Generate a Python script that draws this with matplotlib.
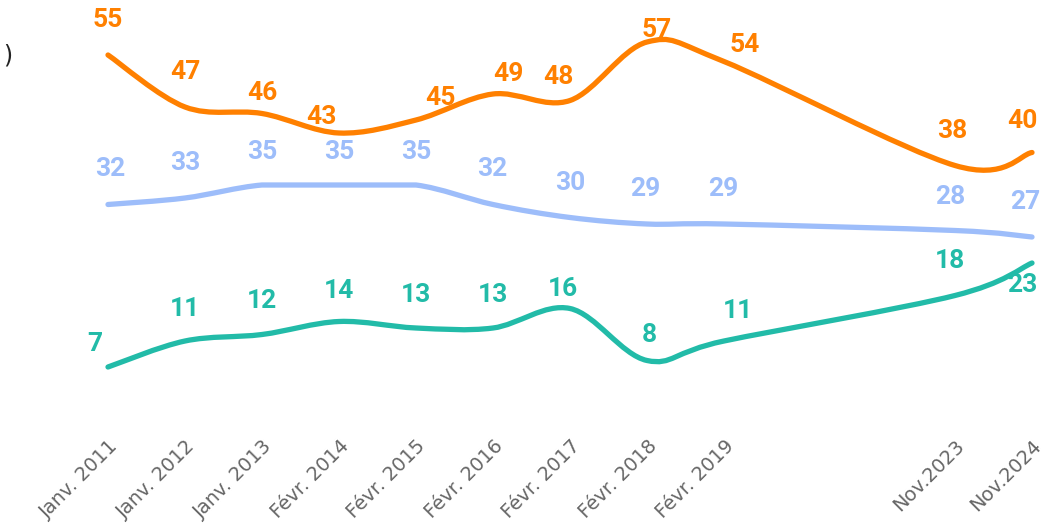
import numpy as np
import matplotlib
matplotlib.use("Agg")
import matplotlib.pyplot as plt
from matplotlib.path import Path
from matplotlib.patches import PathPatch

# x positions follow the survey dates (gap between 2019 and 2023)
labels = ["Janv. 2011", "Janv. 2012", "Janv. 2013", "Févr. 2014", "Févr. 2015",
          "Févr. 2016", "Févr. 2017", "Févr. 2018", "Févr. 2019", "Nov.2023", "Nov.2024"]
xpos = [0, 1, 2, 3, 4, 5, 6, 7, 8, 11, 12]

orange_vals = [55, 47, 46, 43, 45, 49, 48, 57, 54, 38, 40]
blue_vals = [32, 33, 35, 35, 35, 32, 30, 29, 29, 28, 27]
teal_vals = [7, 11, 12, 14, 13, 13, 16, 8, 11, 18, 23]

ORANGE = "#FF8000"
BLUE = "#9DBDFA"
TEAL = "#22BBA8"

# label offsets in pixels (dx, dy) relative to each point
orange_off = [(0, 35), (0, 35), (0, 21), (-18, 16), (24, 22), (15, 20), (-12, 24), (10, 12), (21, 17), (-3, 35), (-10, 32)]
blue_off = [(2, 35), (0, 35), (0, 33), (0, 33), (0, 33), (-1, 35), (0, 35), (-2, 35), (-1, 35), (-5, 34), (-7, 35)]
teal_off = [(-13, 23), (0, 32), (0, 33), (0, 31), (0, 33), (0, 33), (-7, 19), (2, 26), (14, 30), (-5, 34), (-10, -22)]


def smooth_path(xs, ys):
    pts = np.column_stack([xs, ys]).astype(float)
    n = len(pts)
    verts = [pts[0]]
    codes = [Path.MOVETO]
    for i in range(n - 1):
        p0 = pts[max(i - 1, 0)]
        p1 = pts[i]
        p2 = pts[i + 1]
        p3 = pts[min(i + 2, n - 1)]
        c1 = p1 + (p2 - p0) / 6.0
        c2 = p2 - (p3 - p1) / 6.0
        if p1[1] == p2[1] and (p0[1] == p1[1] or p2[1] == p3[1]):  # plateau stays flat
            c1[1] = p1[1]
            c2[1] = p2[1]
        verts += [c1, c2, p2]
        codes += [Path.CURVE4] * 3
    return Path(verts, codes)


fig = plt.figure(figsize=(10.51, 5.30), dpi=100)
W, H = 1051, 530
# x: 0 -> 108px, 12 -> 1032px ; y: 55 -> 55px, 6.5px per unit
xmin, xmax = -0.5, 12.2
ymin, ymax = -3, 60
px_x = 77.0
px_y = 6.5
left = 108 + xmin * px_x
right = 108 + xmax * px_x
top = 55 - (ymax - 55) * px_y
bottom = 55 + (55 - ymin) * px_y
ax = fig.add_axes([left / W, 1 - bottom / H, (right - left) / W, (bottom - top) / H])
ax.set_xlim(xmin, xmax)
ax.set_ylim(ymin, ymax)

for vals, col, offs in [(orange_vals, ORANGE, orange_off),
                        (blue_vals, BLUE, blue_off),
                        (teal_vals, TEAL, teal_off)]:
    patch = PathPatch(smooth_path(xpos, vals), fill=False, edgecolor=col,
                      lw=3.8, capstyle="round", joinstyle="round")
    ax.add_patch(patch)
    for x, v, (dx, dy) in zip(xpos, vals, offs):
        ax.annotate(str(v), (x, v), xytext=(dx * 0.72, dy * 0.72), textcoords="offset points",
                    ha="center", va="center", color=col, fontsize=19, fontweight="bold",
                    family="Roboto")

ax.set_xticks(xpos)
ax.set_xticklabels(labels, rotation=45, ha="right", rotation_mode="anchor",
                   fontsize=14, color="#666666", family="DejaVu Sans")
ax.tick_params(axis="x", length=0, pad=3)
ax.set_yticks([])
for s in ax.spines.values():
    s.set_visible(False)

fig.text(3 / W, 1 - 55 / H, ")", fontsize=17, color="#222222", va="center", family="DejaVu Sans")

fig.savefig("out.png", dpi=100)
